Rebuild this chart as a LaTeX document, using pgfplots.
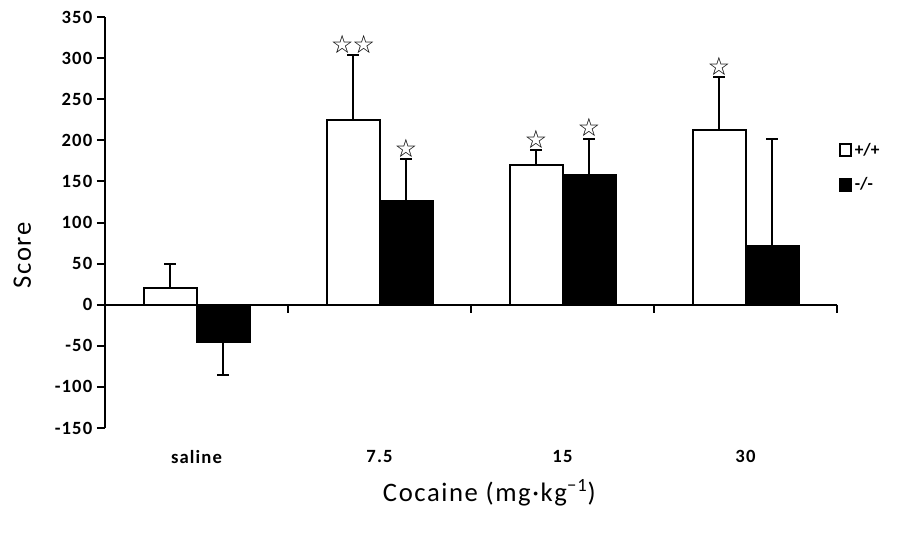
\documentclass[border=0pt]{standalone}
\usepackage{fontspec}
\setmainfont{Carlito}
\newfontfamily\wide{Carlito}[LetterSpace=6]
\newfontfamily\symfont{DejaVu Sans}
\usepackage{pgfplots}
\pgfplotsset{compat=1.18}
\begin{document}
\begin{tikzpicture}
\path[use as bounding box] (0,0) rectangle (679.5pt,401.25pt);
\begin{axis}[
  at={(78.75pt,80.25pt)}, anchor=south west,
  scale only axis, width=549pt, height=308.25pt,
  xmin=-0.5, xmax=3.5, ymin=-150, ymax=350,
  ybar, bar width=39.75pt,
  axis x line=bottom, axis y line=left,
  axis line style={-, line width=1.5pt},
  x axis line style={draw=none},
  xtick={0,1,2,3}, xticklabels={saline,7.5,15,30},
  xtick style={draw=none},
  ytick={-150,-100,...,350},
  ytick style={line width=1.5pt, black},
  tick align=outside, major tick length=6pt,
  /pgf/number format/assume math mode=true,
  ticklabel style={font=\wide\fontsize{14}{16}\selectfont\bfseries},
  xticklabel style={yshift=-7pt},
  xlabel={Cocaine (mg·kg\textsuperscript{\char"2212 1})},
  ylabel={Score},
  label style={font=\wide\fontsize{20}{22}\selectfont},
  xlabel style={at={(axis description cs:0.525,-0.158)}, anchor=center},
  ylabel style={at={(axis description cs:-0.113,0.42)}, anchor=center},
  clip=false,
  legend style={draw=none, fill=none, at={(rel axis cs:1.003,0.634)}, anchor=west,
    inner sep=0pt, row sep=11pt, font=\fontsize{13}{15}\selectfont\bfseries,
    legend cell align=left},
  legend image code/.code={\draw[#1, line width=1.5pt] (0pt,-4.5pt) rectangle (8pt,4.5pt);},
]
\addplot[draw=black, fill=white, line width=1.5pt, bar shift=-19.875pt,
  error bars/.cd, y dir=plus, y explicit,
  error bar style={line width=1.5pt, black},
  error mark options={rotate=90, line width=1.5pt, mark size=4.5pt, black}]
  coordinates {(0,20) +- (0,30) (1,225) +- (0,79) (2,170) +- (0,18) (3,213) +- (0,64)};
\addlegendentry{+/+}
\addplot[draw=black, fill=black, line width=1.5pt, bar shift=19.875pt,
  error bars/.cd, y dir=plus, y explicit,
  error bar style={line width=1.5pt, black},
  error mark options={rotate=90, line width=1.5pt, mark size=4.5pt, black}]
  coordinates {(1,126) +- (0,51) (2,158) +- (0,44) (3,72) +- (0,129)};
\addlegendentry{-/-}
\addplot[forget plot, draw=black, fill=black, line width=1.5pt, bar shift=19.875pt,
  error bars/.cd, y dir=minus, y explicit,
  error bar style={line width=1.5pt, black},
  error mark options={rotate=90, line width=1.5pt, mark size=4.5pt, black}]
  coordinates {(0,-45) +- (0,40)};
\draw[line width=1.5pt] (axis cs:-0.5,0) -- (axis cs:3.5,0);
\draw[line width=1.5pt] (axis cs:0.5,0) -- ([yshift=-6pt]axis cs:0.5,0);
\draw[line width=1.5pt] (axis cs:1.5,0) -- ([yshift=-6pt]axis cs:1.5,0);
\draw[line width=1.5pt] (axis cs:2.5,0) -- ([yshift=-6pt]axis cs:2.5,0);
\draw[line width=1.5pt] (axis cs:3.5,0) -- ([yshift=-6pt]axis cs:3.5,0);
\node[anchor=south, inner sep=1pt, font=\symfont\fontsize{19}{19}\selectfont] at (axis cs:0.855,304) {☆\kern-1pt☆};
\node[anchor=south, inner sep=1pt, font=\symfont\fontsize{19}{19}\selectfont] at (axis cs:1.145,177) {☆};
\node[anchor=south, inner sep=1pt, font=\symfont\fontsize{19}{19}\selectfont] at (axis cs:1.855,188) {☆};
\node[anchor=south, inner sep=1pt, font=\symfont\fontsize{19}{19}\selectfont] at (axis cs:2.145,202) {☆};
\node[anchor=south, inner sep=1pt, font=\symfont\fontsize{19}{19}\selectfont] at (axis cs:2.855,277) {☆};
\end{axis}
\end{tikzpicture}
\end{document}
